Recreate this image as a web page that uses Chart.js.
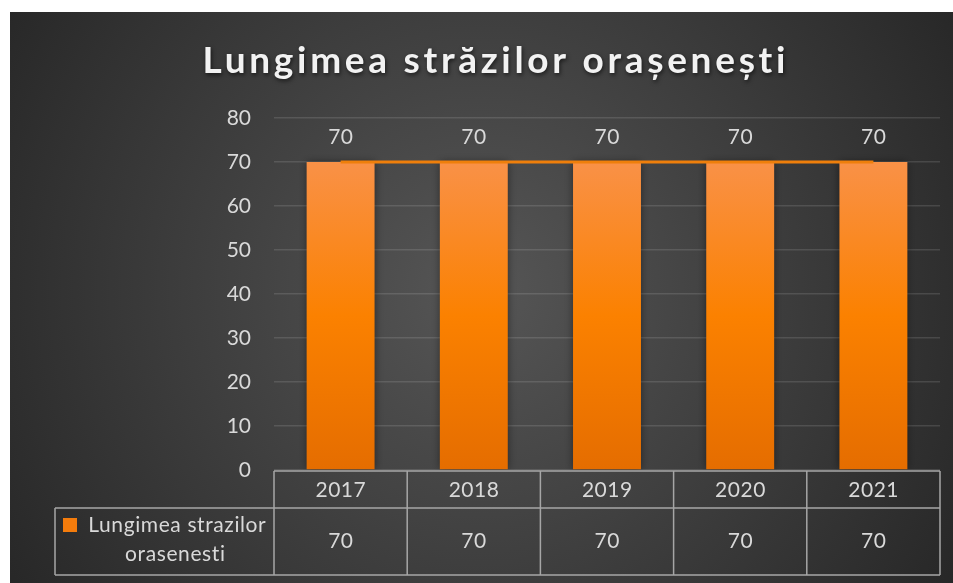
<!DOCTYPE html>
<html><head><meta charset="utf-8">
<script src="https://cdn.jsdelivr.net/npm/chart.js@4/dist/chart.umd.min.js"></script>
<style>html,body{margin:0;padding:0;background:#fff;}#wrap{width:953px;height:583px;}</style>
</head><body><div id="wrap"><canvas id="c" width="953" height="583"></canvas></div>
<script>
const title = "Lungimea străzilor orașenești";
const categories = ["2017", "2018", "2019", "2020", "2021"];
const seriesName = ["Lungimea strazilor", "orasenesti"];
const values = [70, 70, 70, 70, 70];
const trendValues = [70, 70, 70, 70, 70];
const yTicks = { min: 0, max: 80, step: 10 };

const FONT = "Lato, 'Open Sans', sans-serif";
const TXT = "#d9d9d9";

const bgPlugin = {
  id: 'bg',
  beforeDraw(chart) {
    const ctx = chart.ctx;
    ctx.save();
    ctx.fillStyle = '#ffffff';
    ctx.fillRect(0, 0, 953, 583);
    const g = ctx.createRadialGradient(480, 290, 10, 480, 290, 620);
    g.addColorStop(0, '#555555');
    g.addColorStop(1, '#222222');
    ctx.fillStyle = g;
    ctx.fillRect(10, 12, 943, 571);
    ctx.restore();
  }
};

const shadowPlugin = {
  id: 'barShadow',
  beforeDatasetDraw(chart, args) {
    if (args.index === 0) {
      chart.ctx.save();
      chart.ctx.shadowColor = 'rgba(0,0,0,0.45)';
      chart.ctx.shadowBlur = 8;
    }
  },
  afterDatasetDraw(chart, args) {
    if (args.index === 0) chart.ctx.restore();
  }
};

function spacedText(ctx, text, cx, y, ls) {
  ctx.letterSpacing = ls + "px";
  const w = ctx.measureText(text).width - ls;
  ctx.textAlign = 'left';
  ctx.fillText(text, cx - w / 2, y);
  ctx.letterSpacing = "0px";
}

const overlayPlugin = {
  id: 'overlay',
  afterDraw(chart) {
    const ctx = chart.ctx;
    const x = chart.scales.x;
    const ca = chart.chartArea;
    ctx.save();
    // title
    ctx.font = "bold 37px " + FONT;
    ctx.fillStyle = '#f2f2f2';
    ctx.textBaseline = 'alphabetic';
    ctx.shadowColor = 'rgba(0,0,0,0.6)';
    ctx.shadowBlur = 4; ctx.shadowOffsetX = 1; ctx.shadowOffsetY = 2;
    spacedText(ctx, title, 494, 73, 3.7);
    ctx.shadowColor = 'transparent'; ctx.shadowBlur = 0; ctx.shadowOffsetX = 0; ctx.shadowOffsetY = 0;
    ctx.textBaseline = 'middle';
    // data labels
    ctx.font = "21px " + FONT;
    ctx.fillStyle = TXT;
    const meta = chart.getDatasetMeta(0);
    meta.data.forEach((bar, i) => {
      spacedText(ctx, String(values[i]), bar.x, bar.y - 25, 0.5);
    });
    // table
    const n = categories.length;
    const bounds = [];
    for (let i = 0; i <= n; i++) {
      bounds.push(i === 0 ? ca.left : i === n ? ca.right : (x.getPixelForValue(i - 1) + x.getPixelForValue(i)) / 2);
    }
    const top = ca.bottom + 1, mid = 508, bot = 575, legL = 55;
    ctx.strokeStyle = '#a6a6a6';
    ctx.lineWidth = 1.5;
    ctx.beginPath();
    ctx.moveTo(ca.left, top); ctx.lineTo(ca.right, top);
    ctx.moveTo(legL, mid); ctx.lineTo(ca.right, mid);
    ctx.moveTo(legL, bot); ctx.lineTo(ca.right, bot);
    ctx.moveTo(legL, mid); ctx.lineTo(legL, bot);
    bounds.forEach(b => { ctx.moveTo(b, top); ctx.lineTo(b, bot); });
    ctx.stroke();
    ctx.fillStyle = TXT;
    categories.forEach((c, i) => {
      const cx = x.getPixelForValue(i);
      spacedText(ctx, c, cx, (top + mid) / 2 + 1, 0.5);
      spacedText(ctx, String(values[i]), cx, (mid + bot) / 2, 0.5);
    });
    // legend cell
    ctx.fillStyle = '#f47c0c';
    ctx.fillRect(63, 518, 14, 14);
    ctx.fillStyle = TXT;
    spacedText(ctx, seriesName[0], 177, 525, 0.6);
    spacedText(ctx, seriesName[1], 175, 554, 0.6);
    ctx.restore();
  }
};

const ctx = document.getElementById('c').getContext('2d');
function barGradient(context) {
  const ch = context.chart;
  const ca = ch.chartArea;
  if (!ca) return '#f98a2a';
  const y = ch.scales.y;
  const g = ch.ctx.createLinearGradient(0, y.getPixelForValue(70), 0, ca.bottom);
  g.addColorStop(0, '#f99147');
  g.addColorStop(0.5, '#fb8100');
  g.addColorStop(1, '#e56d00');
  return g;
}

new Chart(ctx, {
  type: 'bar',
  data: {
    labels: categories,
    datasets: [
      {
        label: seriesName.join(' '),
        data: values,
        backgroundColor: barGradient,
        borderWidth: 0,
        categoryPercentage: 1,
        barPercentage: 0.51,
        order: 1
      },
      {
        type: 'line',
        label: 'trend',
        data: trendValues,
        borderColor: '#ef7f0b',
        borderWidth: 3,
        pointRadius: 0,
        fill: false,
        order: 0
      }
    ]
  },
  options: {
    responsive: false,
    animation: false,
    events: [],
    layout: { padding: { left: 10, right: 13, top: 118, bottom: 113 } },
    plugins: { legend: { display: false }, title: { display: false }, tooltip: { enabled: false } },
    scales: {
      x: { display: false, offset: true },
      y: {
        min: yTicks.min, max: yTicks.max,
        ticks: { stepSize: yTicks.step, color: TXT, font: { family: FONT, size: 21 }, padding: 23 },
        grid: { color: 'rgba(255,255,255,0.12)', lineWidth: 1.5, drawTicks: false },
        border: { display: false },
        afterFit(scale) { scale.width = 264; }
      }
    }
  },
  plugins: [bgPlugin, shadowPlugin, overlayPlugin]
});
</script>
</body></html>
